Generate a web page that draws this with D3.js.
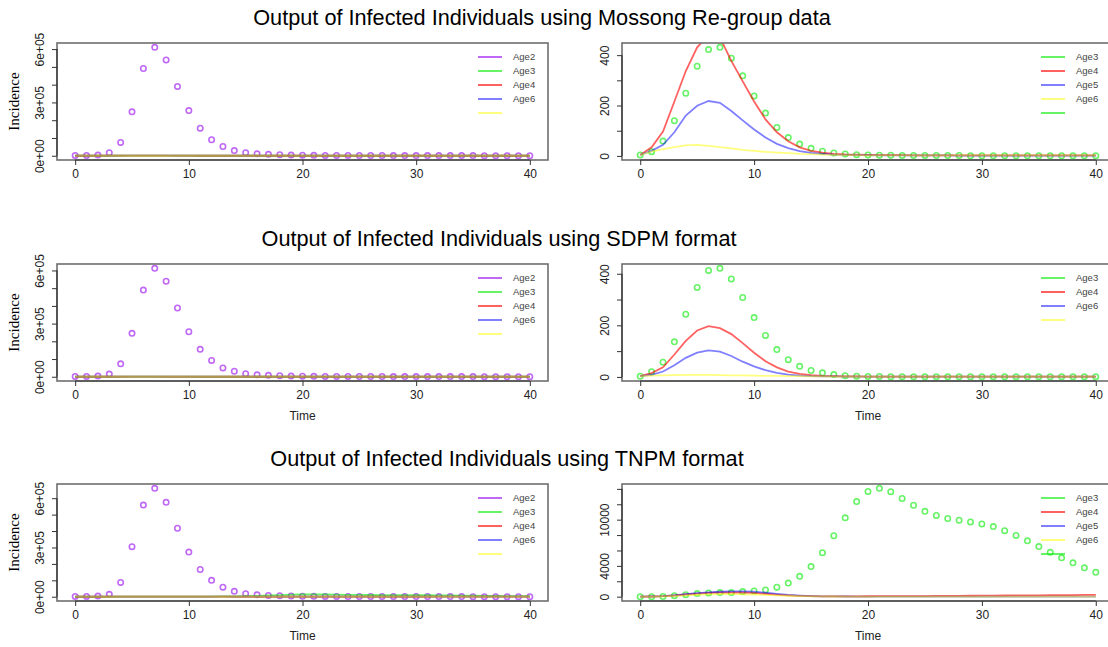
<!DOCTYPE html>
<html>
<head>
<meta charset="utf-8">
<script src="https://cdn.jsdelivr.net/npm/d3@7"></script>
<style>
  html, body { margin: 0; padding: 0; background: #fff; }
  svg { display: block; }
</style>
</head>
<body>
<svg id="chart" width="1108" height="647"></svg>
<script>
// Simulation time steps
const days = [0,1,2,3,4,5,6,7,8,9,10,11,12,13,14,15,16,17,18,19,20,21,22,23,24,25,26,27,28,29,30,31,32,33,34,35,36,37,38,39,40];

// Mossong re-grouped contact data
const mossongAge2 = [2000,2000,4000,17000,75000,247000,491000,610000,539000,390000,254000,155000,90000,52000,29000,17000,11000,8000,6000,4000,3000,2500,2000,1800,1600,1500,1400,1300,1200,1100,1000,950,900,850,800,750,700,650,600,550,500];
const mossongAge3 = [4,17,59,140,249,356,422,431,388,318,238,170,113,73,47,30,19,12,8,5,4,3,3,2,2,2,2,2,2,1,1,1,1,1,1,1,1,1,1,1,1];
const mossongAge4 = [4,34,97,216,337,431,480,470,377,296,216,145,94,58,34,20,13,8,6,5,4,3,3,3,2,2,2,2,2,2,2,2,2,2,2,2,2,2,2,2,2];
const mossongAge5 = [4,20,44,94,160,199,218,211,178,141,105,73,48,31,19,12,8,5,4,3,3,2,2,2,2,2,2,2,1,1,1,1,1,1,1,1,1,1,1,1,1];
const mossongAge6 = [4,17,27,35,42,44,40,35,30,24,20,16,13,11,8,7,5,4,3,3,2,2,2,2,2,2,2,2,2,2,2,2,2,2,2,2,2,2,2,2,2];

// SDPM format
const sdpmAge2 = [2000,2000,4000,15000,73000,245000,489000,612000,539000,388000,254000,155000,92000,50000,31000,17000,11000,8000,6000,4000,3000,2500,2000,1800,1600,1500,1400,1300,1200,1100,1000,950,900,850,800,750,700,650,600,550,500];
const sdpmAge3 = [3,20,57,136,243,347,413,421,380,308,230,161,106,67,41,25,16,9,5,3,2,2,1,1,1,1,1,1,1,1,1,1,1,1,1,1,1,1,1,1,1];
const sdpmAge4 = [3,15,37,87,140,180,197,189,166,131,94,61,37,21,12,7,4,3,2,2,1,1,1,1,1,1,1,1,1,1,1,1,1,1,1,1,1,1,1,1,1];
const sdpmAge5 = [3,8,21,45,74,94,103,98,81,59,41,26,16,9,5,3,2,2,1,1,1,1,1,1,1,1,1,1,1,1,1,1,1,1,1,1,1,1,1,1,1];
const sdpmAge6 = [3,5,6,7,8,8,8,7,6,6,5,4,4,3,3,2,2,1,1,1,1,1,1,1,1,1,1,1,1,1,1,1,1,1,1,1,1,1,1,1,1];

// TNPM format
const tnpmAge2 = [2000,2000,4000,15000,87000,305000,558000,660000,575000,417000,272000,166000,100000,58000,33000,19000,12000,8000,6000,4000,3000,2500,2000,1800,1600,1500,1400,1300,1200,1100,1000,950,900,850,800,750,700,650,600,550,500];
const tnpmAge3 = [0,0,20,130,260,400,480,530,530,660,750,880,1230,1760,2640,3910,5710,7910,10240,12350,13670,14070,13630,12750,11870,11080,10550,10150,9930,9710,9450,9100,8570,7960,7250,6510,5760,5050,4400,3740,3160];
const tnpmAge4 = [0,20,60,150,280,400,480,540,560,540,480,380,270,180,110,70,50,45,45,50,55,60,65,70,75,80,90,100,110,120,130,140,150,160,170,180,190,200,210,220,230];
const tnpmAge5 = [0,20,70,180,320,450,560,640,690,700,650,520,360,230,140,80,50,30,20,15,10,8,6,5,4,4,3,3,3,3,2,2,2,2,2,2,2,2,2,2,2];
const tnpmAge6 = [0,10,40,100,180,250,300,320,320,300,270,220,170,120,80,50,30,20,15,10,8,6,5,4,4,3,3,3,3,2,2,2,2,2,2,2,2,2,2,2,2];

// Axis ticks and labels
const xTicks = [0,10,20,30,40];
const yTicksIncidence = [0,100000,200000,300000,400000,500000,600000];
const yLabelsIncidence = [[0,"0e+00"],[300000,"3e+05"],[600000,"6e+05"]];
const yTicksSmall = [0,100,200,300,400];
const yLabelsSmall = [[0,"0"],[200,"200"],[400,"400"]];
const yTicksLarge = [0,2000,4000,6000,8000,10000,12000,14000];
const yLabelsLarge = [[0,"0"],[4000,"4000"],[10000,"10000"]];

// Titles and legend entries
const titles = [
  "Output of Infected Individuals using Mossong Re-group data",
  "Output of Infected Individuals using SDPM format",
  "Output of Infected Individuals using TNPM format"
];
const legendLeft = ["Age2","Age3","Age4","Age6",""];
const legendRightFive = ["Age3","Age4","Age5","Age6",""];
const legendRightFour = ["Age3","Age4","Age6",""];

// Colours (semi-transparent, as overlapping curves blend near zero)
const C = {
  purple: "rgba(160,32,240,0.68)",
  green: "rgba(0,235,0,0.6)",
  red: "rgba(255,0,0,0.62)",
  blue: "rgba(0,0,255,0.5)",
  yellow: "rgba(255,255,0,0.5)"
};

const SANS = "'Liberation Sans', Arial, Helvetica, sans-serif";
const SERIF = "'Liberation Serif', 'Times New Roman', serif";

const svg = d3.select("#chart");

const rowTops = [43, 264, 484];
const titleX = [542, 499, 507];
const boxH = 117;
const leftBox = [57, 548];
const rightBox = [622, 1114];

const scenarios = [
  {a2: mossongAge2, a3: mossongAge3, a4: mossongAge4, a5: mossongAge5, a6: mossongAge6,
   rightTicks: yTicksSmall, rightLabels: yLabelsSmall,
   rightLegend: legendRightFive, rightLegendCols: [C.green, C.red, C.blue, C.yellow, C.green], time: false},
  {a2: sdpmAge2, a3: sdpmAge3, a4: sdpmAge4, a5: sdpmAge5, a6: sdpmAge6,
   rightTicks: yTicksSmall, rightLabels: yLabelsSmall,
   rightLegend: legendRightFour, rightLegendCols: [C.green, C.red, C.blue, C.yellow], time: true},
  {a2: tnpmAge2, a3: tnpmAge3, a4: tnpmAge4, a5: tnpmAge5, a6: tnpmAge6,
   rightTicks: yTicksLarge, rightLabels: yLabelsLarge,
   rightLegend: legendRightFive, rightLegendCols: [C.green, C.red, C.blue, C.yellow, C.green], time: true}
];

let clipId = 0;

// Draws one panel in the style of base R graphics: points for the
// main series, lines for the others, 4% axis padding, box, axes, legend.
function panel(opts) {
  const {x0, x1, top, dots, dotColor, lines, yTicks, yLabels, legend, legendCols, legendTextX, ylab, xlab} = opts;
  const bottom = top + boxH;
  const ext = d3.extent(dots);
  const pad = (ext[1] - ext[0]) * 0.04;
  const x = d3.scaleLinear().domain([-1.6, 41.6]).range([x0, x1]);
  const y = d3.scaleLinear().domain([ext[0] - pad, ext[1] + pad]).range([bottom, top]);

  const g = svg.append("g");
  const id = "clip" + (clipId++);
  g.append("clipPath").attr("id", id)
    .append("rect").attr("x", x0).attr("y", top).attr("width", x1 - x0).attr("height", boxH);

  const plot = g.append("g").attr("clip-path", `url(#${id})`);

  plot.selectAll("circle").data(days).join("circle")
    .attr("cx", d => x(d)).attr("cy", (d, i) => y(dots[i]))
    .attr("r", 2.7).attr("fill", "none")
    .attr("stroke", dotColor).attr("stroke-width", 1.6);

  const line = d3.line().x(d => x(d[0])).y(d => y(d[1]));
  lines.forEach(s => {
    plot.append("path")
      .attr("d", line(days.map((d, i) => [d, s.values[i]])))
      .attr("fill", "none").attr("stroke", s.color).attr("stroke-width", 1.8);
  });

  // Box
  g.append("rect").attr("x", x0).attr("y", top).attr("width", x1 - x0).attr("height", boxH)
    .attr("fill", "none").attr("stroke", "#6e6e6e").attr("stroke-width", 1.6);

  // x axis
  const xAxis = d3.axisBottom(x).tickValues(xTicks).tickSize(5).tickPadding(4).tickFormat(d3.format("d"));
  const xa = g.append("g").attr("transform", `translate(0,${bottom})`).call(xAxis);
  xa.select(".domain").attr("d", `M${x(0)},0H${x(40)}`).attr("stroke", "#333").attr("stroke-width", 1.2);
  xa.selectAll(".tick line").attr("stroke", "#333");
  xa.selectAll(".tick text").attr("font-size", 12).attr("fill", "#222")
    .style("font-family", SANS);

  // y axis
  const labelMap = new Map(yLabels);
  const yAxis = d3.axisLeft(y).tickValues(yTicks).tickSize(5).tickPadding(4)
    .tickFormat(d => labelMap.has(d) ? labelMap.get(d) : "");
  const ya = g.append("g").attr("transform", `translate(${x0},0)`).call(yAxis);
  ya.select(".domain").attr("d", `M0,${y(yTicks[0])}V${y(yTicks[yTicks.length - 1])}`)
    .attr("stroke", "#333").attr("stroke-width", 1.2);
  ya.selectAll(".tick line").attr("stroke", "#333");
  ya.selectAll(".tick text")
    .attr("font-size", 12).attr("fill", "#222")
    .style("font-family", SANS)
    .attr("x", null).attr("dy", null)
    .attr("text-anchor", "middle")
    .attr("transform", "translate(-13,0) rotate(-90)");

  if (ylab) {
    g.append("text").attr("transform", `translate(19,${(top + bottom) / 2}) rotate(-90)`)
      .attr("text-anchor", "middle").attr("font-size", 15).attr("fill", "#000")
      .style("font-family", SERIF)
      .text(ylab);
  }
  if (xlab) {
    g.append("text").attr("x", (x(0) + x(40)) / 2).attr("y", bottom + 39)
      .attr("text-anchor", "middle").attr("font-size", 12).attr("fill", "#222")
      .style("font-family", SANS)
      .text(xlab);
  }

  // Legend (no frame)
  const lx1 = legendTextX - 35, lx2 = legendTextX - 11;
  legend.forEach((lab, i) => {
    const ly = top + 14 + i * 14;
    g.append("line").attr("x1", lx1).attr("x2", lx2).attr("y1", ly).attr("y2", ly)
      .attr("stroke", legendCols[i]).attr("stroke-width", 2);
    g.append("text").attr("x", legendTextX).attr("y", ly).attr("dy", "0.35em")
      .attr("font-size", 9.5).attr("fill", "#444").style("font-family", SANS).text(lab);
  });
}

scenarios.forEach((s, r) => {
  const top = rowTops[r];
  svg.append("text").attr("x", titleX[r]).attr("y", top - 18).attr("text-anchor", "middle")
    .attr("font-size", 21.7).attr("fill", "#000").style("font-family", SANS).text(titles[r]);

  panel({
    x0: leftBox[0], x1: leftBox[1], top,
    dots: s.a2, dotColor: C.purple,
    lines: [{values: s.a3, color: C.green}, {values: s.a4, color: C.red},
            {values: s.a5, color: C.blue}, {values: s.a6, color: C.yellow}],
    yTicks: yTicksIncidence, yLabels: yLabelsIncidence,
    legend: legendLeft, legendCols: [C.purple, C.green, C.red, C.blue, C.yellow],
    legendTextX: 513, ylab: "Incidence", xlab: s.time ? "Time" : null
  });

  panel({
    x0: rightBox[0], x1: rightBox[1], top,
    dots: s.a3, dotColor: C.green,
    lines: [{values: s.a4, color: C.red}, {values: s.a5, color: C.blue}, {values: s.a6, color: C.yellow}],
    yTicks: s.rightTicks, yLabels: s.rightLabels,
    legend: s.rightLegend, legendCols: s.rightLegendCols,
    legendTextX: 1076, ylab: null, xlab: s.time ? "Time" : null
  });
});
</script>
</body>
</html>
